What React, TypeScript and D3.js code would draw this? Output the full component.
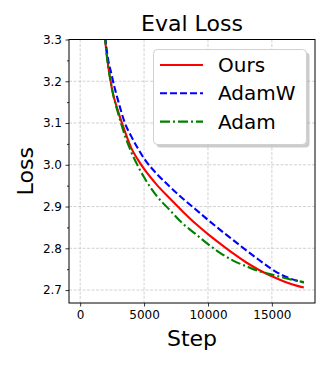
import React, { useEffect, useRef } from "react";
import * as d3 from "d3";

const steps = [1000, 1500, 2000, 2500, 3000, 3500, 4000, 4500, 5000, 6000, 7000, 8000, 9000, 10000, 11000, 12000, 13000, 14000, 15000, 16000, 17000, 17500];
const oursLoss = [4.0, 3.5, 3.285, 3.18, 3.125, 3.08, 3.04, 3.013, 2.99, 2.952, 2.92, 2.889, 2.86, 2.834, 2.81, 2.787, 2.766, 2.748, 2.733, 2.72, 2.71, 2.706];
const adamwLoss = [4.0, 3.52, 3.295, 3.21, 3.15, 3.1, 3.068, 3.04, 3.015, 2.978, 2.948, 2.92, 2.894, 2.868, 2.843, 2.819, 2.795, 2.772, 2.75, 2.733, 2.722, 2.718];
const adamLoss = [4.0, 3.5, 3.285, 3.18, 3.12, 3.07, 3.03, 2.998, 2.97, 2.925, 2.892, 2.86, 2.835, 2.81, 2.788, 2.77, 2.757, 2.745, 2.737, 2.729, 2.722, 2.719];

const seriesNames = ["Ours", "AdamW", "Adam"];
const seriesColors = ["#ff0000", "#0000ff", "#008000"];
const seriesDash = ["", "7,3", "10,3,2,3"];
const seriesValues = [oursLoss, adamwLoss, adamLoss];

const xTicks = [0, 5000, 10000, 15000];
const yTicks = [2.7, 2.8, 2.9, 3.0, 3.1, 3.2, 3.3];
const yMinor = [2.75, 2.85, 2.95, 3.05, 3.15, 3.25];

const W = 329;
const H = 366;
const m = { left: 69, right: 315, top: 39.5, bottom: 303 };
const font = "DejaVu Sans";

export default function App() {
  const ref = useRef<SVGSVGElement>(null);

  useEffect(() => {
    const svg = d3.select(ref.current);
    svg.selectAll("*").remove();

    const x = d3.scaleLinear().domain([-875, 18375]).range([m.left, m.right]);
    const y = d3.scaleLinear().domain([2.669, 3.3]).range([m.bottom, m.top]);

    svg.append("rect").attr("width", W).attr("height", H).attr("fill", "#fff");

    svg.append("defs").append("clipPath").attr("id", "clip")
      .append("rect")
      .attr("x", m.left).attr("y", m.top)
      .attr("width", m.right - m.left).attr("height", m.bottom - m.top);

    // grid
    const grid = svg.append("g").attr("stroke", "#b0b0b0").attr("stroke-width", 0.8)
      .attr("stroke-dasharray", "3,1.5").attr("opacity", 0.7);
    xTicks.forEach(t => {
      grid.append("line").attr("x1", x(t)).attr("x2", x(t)).attr("y1", m.top).attr("y2", m.bottom);
    });
    yTicks.forEach(t => {
      grid.append("line").attr("x1", m.left).attr("x2", m.right).attr("y1", y(t)).attr("y2", y(t));
    });

    // lines
    const lines = svg.append("g").attr("clip-path", "url(#clip)");
    seriesValues.forEach((vals, i) => {
      const pts = steps.map((s, j) => [s, vals[j]] as [number, number]);
      const line = d3.line<[number, number]>()
        .x(d => x(d[0]))
        .y(d => y(d[1]))
        .curve(d3.curveMonotoneX);
      lines.append("path")
        .attr("d", line(pts))
        .attr("fill", "none")
        .attr("stroke", seriesColors[i])
        .attr("stroke-width", 2.1)
        .attr("stroke-dasharray", seriesDash[i] || null);
    });

    // axes
    const xAxis = d3.axisBottom(x).tickValues(xTicks).tickSize(3.5).tickPadding(3.5).tickFormat(d3.format("d"));
    const gx = svg.append("g").attr("transform", `translate(0,${m.bottom})`).call(xAxis);
    const yAxis = d3.axisLeft(y).tickValues(yTicks).tickSize(3.5).tickPadding(3.5).tickFormat(d3.format(".1f"));
    const gy = svg.append("g").attr("transform", `translate(${m.left},0)`).call(yAxis);
    const yAxisMinor = d3.axisLeft(y).tickValues(yMinor).tickSize(2).tickFormat(() => "");
    const gym = svg.append("g").attr("transform", `translate(${m.left},0)`).call(yAxisMinor);
    [gx, gy, gym].forEach(g => {
      g.select(".domain").remove();
      g.selectAll("text").attr("font-family", font).attr("font-size", 12).attr("fill", "#000");
      g.selectAll("line").attr("stroke", "#000").attr("stroke-width", 0.8);
    });

    svg.append("rect")
      .attr("x", m.left).attr("y", m.top)
      .attr("width", m.right - m.left).attr("height", m.bottom - m.top)
      .attr("fill", "none").attr("stroke", "#000").attr("stroke-width", 1);

    // labels
    svg.append("text").attr("x", (m.left + m.right) / 2).attr("y", 31)
      .attr("text-anchor", "middle").attr("font-family", font).attr("font-size", 22)
      .text("Eval Loss");
    svg.append("text").attr("x", (m.left + m.right) / 2).attr("y", 346)
      .attr("text-anchor", "middle").attr("font-family", font).attr("font-size", 22)
      .text("Step");
    svg.append("text")
      .attr("transform", `translate(33,${(m.top + m.bottom) / 2}) rotate(-90)`)
      .attr("text-anchor", "middle").attr("font-family", font).attr("font-size", 22)
      .text("Loss");

    // legend
    const lg = svg.append("g");
    const lx = 153.5, ly = 49.5, lw = 153, lh = 95;
    lg.append("rect").attr("x", lx + 3).attr("y", ly + 3).attr("width", lw).attr("height", lh)
      .attr("rx", 4).attr("fill", "#999").attr("opacity", 0.5);
    lg.append("rect").attr("x", lx).attr("y", ly).attr("width", lw).attr("height", lh)
      .attr("rx", 4).attr("fill", "#fff").attr("stroke", "#d0d0d0").attr("stroke-width", 1);
    seriesNames.forEach((name, i) => {
      const cy = 65 + i * 28.3;
      lg.append("line").attr("x1", 160).attr("x2", 203).attr("y1", cy).attr("y2", cy)
        .attr("stroke", seriesColors[i]).attr("stroke-width", 2.1)
        .attr("stroke-dasharray", seriesDash[i] || null);
      lg.append("text").attr("x", 218).attr("y", cy + 7)
        .attr("font-family", font).attr("font-size", 20).text(name);
    });
  }, []);

  return (
    <svg ref={ref} width={W} height={H} style={{ position: "absolute", left: 0, top: 0 }} />
  );
}
